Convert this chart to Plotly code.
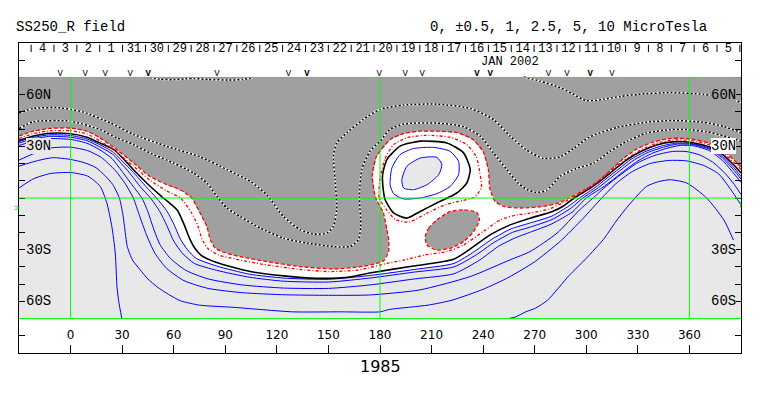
import plotly.graph_objects as go

# ---------------- contour lines (lon, lat) ----------------
neutral_line = [(-30,36.0),(-21.5,38.8),(-12,40.4),(0,40.6),(9.5,38.8),(17,35),(27,28),(36.6,20.4),(46,12.6),
    (56,7.8),(62,5.5),(66,3.5),(70.5,0),(75.4,-8.8),(79.3,-16.6),(81.3,-24.3),(84,-29),(89,-31.5),(98.6,-34),
    (114,-36.9),(133.5,-39.8),(153,-41.2),(168,-40),(176,-38.5),(182,-36.5),(185,-31),(185,-24),(184,-18.4),
    (182,-8.7),(177.5,0),(175.5,12.6),(178,24.3),(186,34),(194,37.5),(203,38.8),(213,38.8),(225,37.9),(234,34),
    (240,27),(243,16.5),(244,5),(247,-2),(252,-4.9),(262,-5.8),(275,-4.9),(284,-2.8),(290,0),(298,4),(306,9),
    (314,16),(321.6,23),(329.4,28.5),(339,32.5),(349,34.6),(360,34.4),(372,31.7),(380,27.2),(386,22),(390,18)]

half_line = [(-30,34.6),(-21.5,37.4),(-12,39),(0,39),(9.5,37.2),(17,33.2),(25,28),(36.6,18.5),(46,10.5),(56,4),
    (64,0),(70,-8),(74,-16),(76.5,-24),(80,-29.5),(86,-33),(96,-35.5),(112,-38.5),(132,-41.3),(150,-42.7),
    (166,-42),(174,-40.5),(184,-38),(194,-36),(206,-33.1),(219,-31.1),(228.6,-27.3),(240,-19.5),(250,-12.7),
    (259.6,-9.8),(267.3,-8.8),(278,-6.5),(286,-3),(291.5,0),(300,5),(308,10.5),(315.5,17),(323,22.5),(331,27.5),
    (340,31.5),(349.5,33.6),(360,33.5),(372,30.7),(380,26),(386,20.5),(390,16.5)]

one_line = [(-30,33.5),(-21.5,36),(-12,37.6),(0,37.3),(9.5,35.3),(17,32),(25.2,28.1),(31,22.5),(36.6,16.4),
    (46.4,6.7),(54,0),(62,-7),(65.7,-14.6),(69.6,-24.3),(72.5,-29.5),(76,-33.3),(85,-37.5),(104.5,-42.7),
    (124,-45.2),(143,-46.6),(160,-46.2),(174,-43.5),(199.5,-39.5),(222.8,-35.6),(234.4,-28.2),(244,-21.4),
    (255.7,-15.6),(267.3,-11.7),(280,-8),(287,-4.5),(293,0),(302,5.5),(309,10.5),(317,17),(324,22.5),(332,27.2),
    (341,30.8),(350,32.6),(360,32.4),(372,29.5),(380,24.8),(386,19),(390,14.5)]

blue_1 = [(-30,32.8),(-21.5,35.2),(-12,36.7),(0,36.3),(9.5,34.3),(17,31),(25,26.5),(30.5,21),(36,15.5),(44,6.5),
    (50,0),(56,-7.5),(60,-15),(64,-24),(68,-30),(73,-35),(85,-39.5),(104,-44.2),(124,-46.5),(150,-47.2),
    (174,-45),(200,-41.5),(223,-38),(235,-31),(245,-24),(256,-18),(267,-14.6),(280,-10.5),(290,-4.5),(296,0),
    (305,6),(312,11.5),(319,17),(326,22.5),(334,26.8),(343,30),(352,31.8),(361,31.6),(372,28.8),(380,23.5),
    (386,17.5),(390,12.5)]

blue_2 = [(-30,32),(-21.5,34.3),(-12,35.8),(0,35.3),(9.5,33.3),(17,29.7),(25,25),(29.5,20),(34,15),(41,6),
    (46.5,0),(52,-8),(56,-16),(60,-25),(65,-32),(72,-38),(85,-42),(104,-46),(124,-48.3),(150,-48.8),(174,-46.5),
    (200,-43),(223,-40),(236,-33),(246,-26),(257,-20),(267,-17),(280,-12.5),(291,-6),(298,0),(307,6),(314,11.5),
    (321,17),(328,22.2),(336,26.5),(345,29.5),(353,31.3),(362,31),(372,28.2),(380,22.5),(386,16),(390,11)]

blue_3 = [(-30,30.5),(-21.5,33),(-12,34.5),(0,34),(9.5,31.8),(17,28),(24,23),(31,14),(37,6),(41.5,0),(45,-8),
    (48,-17),(52,-27),(58,-35),(67,-42),(80,-47),(100,-50.5),(124,-52.3),(150,-52.5),(174,-50.5),(200,-47),
    (223,-44),(238,-36),(249,-28),(259,-23),(267,-20),(280,-15),(292,-8),(300,0),(309,5.8),(316,11),(323,16.5),
    (330,21.5),(338,25.8),(347,28.9),(355,30.6),(363,30.2),(372,27.3),(380,21),(386,14),(390,9)]

blue_4 = [(-30,22),(-22,25.5),(-12,29),(0,29.5),(10,27.5),(18,23.5),(26,16),(32,8),(36.5,0),(40,-10),(44,-21),
    (49,-32),(56,-41),(66,-48),(80,-52.5),(100,-55),(125,-56.2),(150,-56.5),(174,-56.3),(203,-53.4),
    (232.5,-45.6),(255.7,-35.9),(267.3,-31.1),(283,-20.4),(296,-7),(304,0),(310,5.5),(316,10.5),(322,15),
    (330,20.5),(340,24.8),(350,27),(358,27),(366,25),(374,20.5),(381,14),(386,8),(390,2)]

blue_5 = [(-30,18.5),(-20,21.5),(-10.4,23.4),(0,22.4),(8,20.5),(14.8,17.6),(20,13),(24.5,7.9),(28.4,0),
    (30.5,-10),(31.8,-20),(33,-28.2),(36,-36),(40.5,-41.7),(45,-47),(50.2,-51.5),(57,-56),(64,-59.7),(75,-62.2),
    (95,-63.5),(129,-66.1),(157,-66.1),(180,-66.1),(185.5,-64.7),(208,-62.2),(222,-59.3),(240,-53),(255,-46),
    (270,-37),(285,-25),(298,-12),(309,0),(318,9),(327,15.5),(337,20),(348,21.8),(358,21.6),(368,19),(377,14),
    (384,5),(390,-4)]

blue_6_west = [(-30,5.8),(-21.5,11.2),(-11.8,14.2),(0,14.8),(10,12.7),(17.2,6.8),(21.1,-2.9),(24,-16.5),
    (26,-32),(27,-51.5),(28,-60),(29.8,-70)]

blue_6_east = [(254.9,-70),(259,-69),(265,-66),(270.4,-64),(277.5,-59.3),(290,-45),(300,-35),(310,-24),(317,-14),
    (324,-5),(335,6.7),(342,9.5),(348.8,10.6),(358.5,8.7),(370,0),(380,-12.7),(385.6,-24.4)]

island_half = [(180,11.5),(183,23),(188,31),(195.6,35),(207,36.4),(221,35.2),(230.5,31),(236,24),(238,15),
    (239,6),(235,0.5),(228,-1.5),(219,-3.5),(207,-9),(197,-14),(189,-12.5),(184,-7),(179.5,0),(180,11.5)]

island_one = [(182,4),(181.5,13.5),(184,22.3),(191.7,30.1),(203.4,33),(218.9,32),(228.6,26.2),(232.5,16.5),
    (230.5,8.7),(224.7,2.9),(213,-2.9),(203.4,-7.8),(195.6,-11.7),(187.9,-8.7),(183,-1),(182,4)]

island_blue_1 = [(185.9,7.7),(186.9,17.4),(191.7,25.2),(199.5,28.7),(211.1,29.4),(220.8,27.1),(225.7,21.3),
    (225.7,13.5),(220.8,6.7),(213,2.5),(203.4,0),(193.7,-0.5),(187.9,2.5),(185.9,7.7)]

island_blue_2 = [(192.7,10.6),(195.6,18.4),(203.4,23.2),(213.1,23.6),(216,19.3),(214.1,13.5),(207.3,7.7),
    (199.5,4.8),(193.7,5.8),(192.7,10.6)]

small_negative_island = [(206.3,-22.4),(208.3,-17.6),(213.1,-12.7),(220.8,-7.9),(228.6,-6.9),(236.3,-8.4),
    (237.9,-12.7),(234.4,-19.5),(228.6,-25.3),(220.8,-29.2),(213.1,-30.2),(207.3,-27.3),(206.3,-22.4)]

neg_top_dip = [(46,70),(52,69),(60,68.7),(67,69.2),(72,69.4),(80,68.8),(92,68.5),(100,68.8),(106,70)]

neg_a = [(263.6,70.3),(273,67.9),(285,64),(292,60.5),(300,56.5),(310,57.3),(320,59),(330,60.2),(349,61.2),
    (368,60.2),(380,58.5),(390,55.5)]

neg_1 = [(-30,49.4),(-21.5,52),(-6,52.4),(7.6,49.8),(23.1,43.6),(36.6,36.9),(56,30),(75.4,23.9),(90.9,16.5),
    (104.5,9.7),(114.1,1.9),(123.8,-10.7),(133.5,-18.4),(141.3,-21),(149,-20.4),(152.9,-16.5),(154.8,-6.8),
    (153.9,10.7),(152.9,24.2),(154.8,32),(160.7,37.9),(170.3,45.6),(180,51.5),(193.7,54),(213,54.5),
    (232.6,52),(246,45.6),(255.7,35.9),(265,28),(275,23),(285,24),(293,29),(302,35.5),(318,41),(335,44),
    (350,45),(368,44),(380,41.5),(390,38)]

neg_2 = [(-30,40.3),(-21.5,44.3),(0,44.6),(17.2,39.7),(26.9,34.9),(36.6,31.1),(46.3,26.1),(59.9,20.3),
    (71.5,14.5),(79.3,8.7),(85.1,1),(90.9,-5.8),(98.6,-10.7),(110.3,-17.5),(123.8,-23.3),(137.4,-26.2),
    (152.9,-28.2),(162.6,-28.2),(167.4,-24.3),(168.8,-16.5),(168,1),(169.4,16.5),(174.2,27.2),(180,33),
    (186,40),(194,43),(213,43.5),(228.4,41.5),(238.3,35.9),(246,26.2),(253.8,16.5),(260,9),(265.4,4.9),
    (271,3.2),(277,4.5),(284.8,12.6),(294,17),(304.2,20.3),(313.9,27.1),(323.6,32.9),(335.2,37.8),
    (348.8,39.7),(358.5,39.7),(370,38.5),(380,36),(390,33)]

# ---------------- axes / labels ----------------
LON_TICKS = [0, 30, 60, 90, 120, 150, 180, 210, 240, 270, 300, 330, 360]
LAT_TICKS = [-80, -70, -60, -50, -40, -30, -20, -10, 0, 10, 20, 30, 40, 50, 60, 70, 80]
LAT_LABELS = [(60, "60N"), (30, "30N"), (-30, "30S"), (-60, "60S")]
GREEN_LONS = [0, 180, 360]
GREEN_LATS = [-70, 0, 70]
DAY_LABELS = ["4", "3", "2", "1", "31", "30", "29", "28", "27", "26", "25", "24", "23", "22", "21", "20",
              "19", "18", "17", "16", "15", "14", "13", "12", "11", "10", "9", "8", "7", "6", "5"]
DAY_LONS = [-16.3, -3.0, 10.3, 23.6, 36.9, 50.2, 63.5, 76.8, 90.1, 103.4, 116.7, 130.0, 143.3, 156.6, 169.9,
            183.2, 196.5, 209.8, 223.1, 236.4, 249.7, 263.0, 276.3, 289.6, 302.9, 316.2, 329.5, 342.8, 356.1,
            369.4, 382.7]
MARK_LONS = [-6, 8.5, 20.2, 34.7, 45.2, 85.1, 126.8, 137.5, 179.5, 194.7, 204.6, 236.4, 244.1, 278, 288.7,
             302.3, 314.9]
MARK_KIND = ["V", "V", "V", "V", "W", "V", "V", "W", "V", "V", "V", "W", "W", "V", "V", "W", "V"]

DARK = "#a0a0a0"
LIGHT = "#e8e8e8"
RED = "#ff0000"
BLUE = "#0000ff"
GREEN = "#00ff00"
MONO = "Liberation Mono, Courier New, monospace"

fig = go.Figure()


def xy(pts):
    return [p[0] for p in pts], [p[1] for p in pts]


def add_fill(pts, color):
    x, y = xy(pts)
    fig.add_trace(go.Scatter(x=x, y=y, mode="lines", fill="toself", fillcolor=color,
                             line=dict(width=0, color=color), hoverinfo="skip", showlegend=False))


def add_line(pts, color, width=1, dash="solid"):
    x, y = xy(pts)
    fig.add_trace(go.Scatter(x=x, y=y, mode="lines", hoverinfo="skip", showlegend=False,
                             line=dict(color=color, width=width, dash=dash, shape="spline", smoothing=0.6)))


# fills
add_fill(blue_1 + [(390, -70), (-30, -70)], LIGHT)
add_fill(neutral_line + [(390, 70), (-30, 70)], DARK)
add_fill(small_negative_island, DARK)
add_fill(island_blue_2, LIGHT)

# negative contours (black dashes on white)
for ln in (neg_top_dip, neg_a, neg_1, neg_2):
    add_line(ln, "white", 1.5)
    add_line(ln, "black", 1.5, "2px,2px")

# positive contours
for ln in (blue_1, blue_2, blue_3, blue_4, blue_5, blue_6_west, blue_6_east, island_blue_1, island_blue_2):
    add_line(ln, BLUE, 1)
for ln in (one_line, island_one):
    add_line(ln, "black", 1.6)
for ln in (half_line, island_half):
    add_line(ln, RED, 1.3, "3px,2px,1px,2px")
for ln in (neutral_line, small_negative_island):
    add_line(ln, RED, 1.3, "4px,2px")

# top strip: day separators, day labels, observation marks
sep_lons = [(DAY_LONS[i] + DAY_LONS[i + 1]) / 2 for i in range(len(DAY_LONS) - 1)]
sep_lons = [DAY_LONS[0] - 6.65] + sep_lons + [DAY_LONS[-1] + 6.65]
sx, sy = [], []
for s in sep_lons:
    sx += [s, s, None]
    sy += [89.0, 84.8, None]
fig.add_trace(go.Scatter(x=sx, y=sy, mode="lines", line=dict(color="black", width=1),
                         hoverinfo="skip", showlegend=False))
fig.add_trace(go.Scatter(x=DAY_LONS, y=[86.3] * len(DAY_LONS), mode="text", text=DAY_LABELS,
                         textfont=dict(family=MONO, size=12, color="black"),
                         hoverinfo="skip", showlegend=False))
fig.add_trace(go.Scatter(x=MARK_LONS, y=[72.2] * len(MARK_LONS), mode="text",
                         text=["<b>V</b>" if k == "W" else "V" for k in MARK_KIND],
                         textfont=dict(family=MONO, size=9, color="black"),
                         hoverinfo="skip", showlegend=False))

# bottom strip: longitude labels
fig.add_trace(go.Scatter(x=LON_TICKS, y=[-80.4] * len(LON_TICKS), mode="text",
                         text=[str(v) for v in LON_TICKS],
                         textfont=dict(family="DejaVu Sans", size=12, color="black"),
                         hoverinfo="skip", showlegend=False))

# green reference lines
for g in GREEN_LONS:
    fig.add_shape(type="line", x0=g, x1=g, y0=-70, y1=70, xref="x", yref="y",
                  line=dict(color=GREEN, width=1), layer="above")
for g in GREEN_LATS:
    fig.add_shape(type="line", x0=-30, x1=390, y0=g, y1=g, xref="x", yref="y",
                  line=dict(color=GREEN, width=1), layer="above")
fig.add_shape(type="line", x0=390, x1=390, y0=-2.5, y1=-5.5, xref="x", yref="y",
              line=dict(color=GREEN, width=2), layer="above")

# latitude labels
bg_left = {60: DARK, 30: LIGHT, -30: LIGHT, -60: LIGHT}
bg_right = {60: DARK, 30: "white", -30: LIGHT, -60: LIGHT}
for lat, lab in LAT_LABELS:
    fig.add_annotation(x=-26.0, y=lat, text=lab, showarrow=False, xanchor="left", yanchor="middle",
                       bgcolor=bg_left[lat], borderpad=0, borderwidth=0,
                       font=dict(family=MONO, size=14, color="black"))
    fig.add_annotation(x=387.2, y=lat, text=lab, showarrow=False, xanchor="right", yanchor="middle",
                       bgcolor=bg_right[lat], borderpad=0, borderwidth=0,
                       font=dict(family=MONO, size=14, color="black"))

JAN_LABEL = "JAN 2002"
fig.add_annotation(x=255.7, y=79.1, text=JAN_LABEL, showarrow=False, xanchor="center", yanchor="middle",
                   font=dict(family=MONO, size=12, color="black"))

# texts outside the plotting area (paper coordinates; plot area spans 722 x 310 px)
fig.add_annotation(xref="paper", yref="paper", x=-0.0035, y=0.4645, text=">", showarrow=False,
                   xanchor="center", yanchor="middle", font=dict(family=MONO, size=9, color="#00cc00"))
fig.add_annotation(xref="paper", yref="paper", x=-0.0075, y=1.0516, text="SS250_R field", showarrow=False,
                   xanchor="left", yanchor="middle", font=dict(family=MONO, size=14, color="black"))
fig.add_annotation(xref="paper", yref="paper", x=0.5665, y=1.0516, text="0, ±0.5, 1, 2.5, 5, 10 MicroTesla",
                   showarrow=False, xanchor="left", yanchor="middle",
                   font=dict(family=MONO, size=14, color="black"))
fig.add_annotation(xref="paper", yref="paper", x=0.5, y=-0.042, text="1985", showarrow=False,
                   xanchor="center", yanchor="middle", font=dict(family="DejaVu Sans", size=16, color="black"))

fig.update_xaxes(range=[-30, 390], showgrid=False, zeroline=False, showline=True, linecolor="black",
                 linewidth=1, mirror=True, ticks="inside", ticklen=8, tickcolor="black",
                 tickvals=LON_TICKS, showticklabels=False)
fig.update_yaxes(range=[-90, 90], showgrid=False, zeroline=False, showline=True, linecolor="black",
                 linewidth=1, mirror="ticks", ticks="inside", ticklen=6, tickcolor="black",
                 tickvals=LAT_TICKS, showticklabels=False)
# the page body adds an 8 px offset, so margins are set to land the frame at x 19-741, y 43-353
fig.update_layout(width=763, height=396, margin=dict(l=11, r=30, t=35, b=51),
                  paper_bgcolor="white", plot_bgcolor="white", showlegend=False)

fig.write_html("out.html")
